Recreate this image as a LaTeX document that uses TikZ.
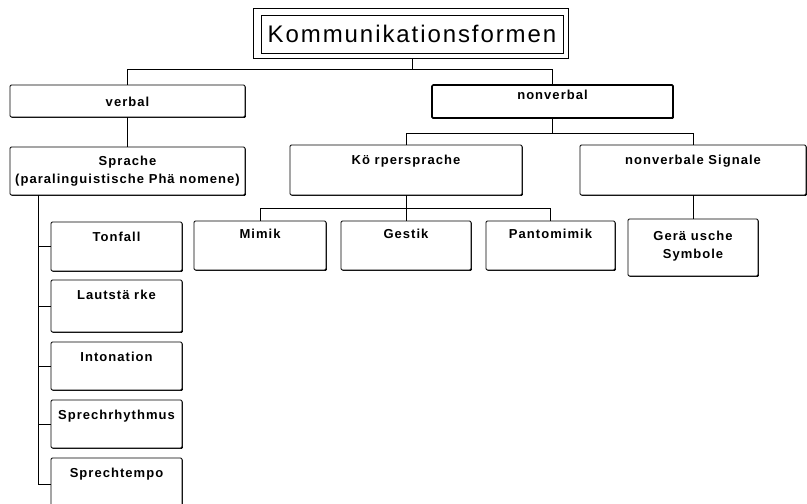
\documentclass[tikz,border=0pt]{standalone}
\usepackage{fontspec}
\setmainfont{Liberation Sans}[LetterSpace=8]
\usetikzlibrary{shadows}

\tikzset{
  x=1pt, y=-1pt,
  box/.style={draw, line width=0.9pt, fill=white, rounded corners=1.2pt,
    inner sep=0pt,
    drop shadow={shadow xshift=0.9pt, shadow yshift=-0.9pt, opacity=1, fill=black}},
  heavybox/.style={box, line width=1.7pt},
  lab/.style={anchor=north, inner sep=0pt, align=center,
    font=\bfseries\fontsize{13}{18}\selectfont},
  titlebox/.style={draw, line width=0.9pt, inner sep=0pt,
    font=\fontsize{24}{28}\selectfont},
  titleframe/.style={line width=1.1pt},
  conn/.style={line width=0.8pt},
}

\begin{document}
\begin{tikzpicture}
\useasboundingbox (0,0) rectangle (807,504);

% root, with its double frame
\node[titlebox, minimum width=302, minimum height=38] (title) at (412,34)
  {Kommunikationsformen};
\draw[titleframe] ([shift={(-7pt,6pt)}]title.north west)
  rectangle ([shift={(5pt,-5pt)}]title.south east);

% first level
\node[box, minimum width=235, minimum height=32,
  label={[lab, yshift=-12pt]north:verbal}] (verbal) at (127.5,101) {};
\node[heavybox, minimum width=241, minimum height=33,
  label={[lab, yshift=-6pt]north:nonverbal}] (nonverbal) at (552.5,101.5) {};

% second level
\node[box, minimum width=235, minimum height=48,
  label={[lab, yshift=-9pt]north:Sprache\\(paralinguistische Phä nomene)}] (sprache) at (127.5,171) {};
\node[box, minimum width=232, minimum height=50,
  label={[lab, yshift=-10pt]north:Kö rpersprache}] (koerper) at (406,170) {};
\node[box, minimum width=226, minimum height=50,
  label={[lab, yshift=-10pt]north:nonverbale Signale}] (signale) at (693,170) {};

% body language
\node[box, minimum width=132, minimum height=49,
  label={[lab, yshift=-8pt]north:Mimik}] (mimik) at (260,245.5) {};
\node[box, minimum width=130, minimum height=49,
  label={[lab, yshift=-8pt]north:Gestik}] (gestik) at (406,245.5) {};
\node[box, minimum width=129, minimum height=49,
  label={[lab, yshift=-8pt]north:Pantomimik}] (panto) at (550.5,245.5) {};

% signals
\node[box, minimum width=130, minimum height=57,
  label={[lab, yshift=-12pt]north:Gerä usche\\Symbole}] (geraeusche) at (693,247.5) {};

% paralinguistic features
\node[box, minimum width=131, minimum height=49,
  label={[lab, yshift=-10pt]north:Tonfall}] (tonfall) at (116.5,246.5) {};
\node[box, minimum width=131, minimum height=52,
  label={[lab, yshift=-10pt]north:Lautstä rke}] (laut) at (116.5,306) {};
\node[box, minimum width=131, minimum height=48,
  label={[lab, yshift=-10pt]north:Intonation}] (inton) at (116.5,366) {};
\node[box, minimum width=131, minimum height=48,
  label={[lab, yshift=-10pt]north:Sprechrhythmus}] (rhythm) at (116.5,424) {};
\node[box, minimum width=131, minimum height=52,
  label={[lab, yshift=-10pt]north:Sprechtempo}] (tempo) at (116.5,484) {};

% connectors
\draw[conn] ([yshift=-5pt]title.south) -- ++(0,11) coordinate (tj) -| (verbal.north);
\draw[conn] (tj) -| (nonverbal.north);
\draw[conn] (verbal.south) -- (sprache.north);
\draw[conn] (nonverbal.south) -- ++(0,15) coordinate (nj) -| (koerper.north);
\draw[conn] (nj) -| (signale.north);
\draw[conn] (koerper.south) -- ++(0,13) coordinate (kj) -| (mimik.north);
\draw[conn] (kj) -| (gestik.north);
\draw[conn] (kj) -| (panto.north);
\draw[conn] (signale.south) -- (geraeusche.north);
\draw[conn] ([xshift=29pt]sprache.south west) |- (tempo.west);
\foreach \n in {tonfall,laut,inton,rhythm}
  \draw[conn] (\n.west) -- ++(-12,0);
\end{tikzpicture}
\end{document}
